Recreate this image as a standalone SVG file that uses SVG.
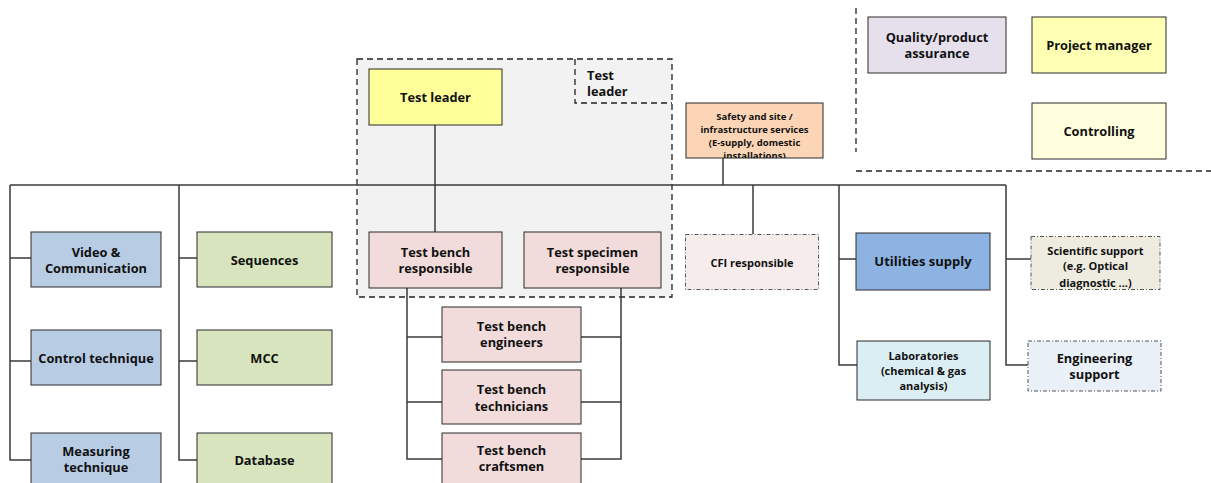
<svg xmlns="http://www.w3.org/2000/svg" width="1211" height="483" viewBox="0 0 1211 483">
  <style>
    .box { stroke: #2b2b2b; stroke-width: 1; }
    .dd { stroke: #555; stroke-width: 1; stroke-dasharray: 4 2 1 2; }
    .lbl { font-family: "Open Sans", "Noto Sans", "Liberation Sans", sans-serif; font-weight: bold; fill: #111; text-anchor: middle; dominant-baseline: central; }
    .s13 { font-size: 12.8px; }
    .s11 { font-size: 11px; }
    .s10 { font-size: 9.5px; }
    .s14 { font-size: 13px; }
    .conn { stroke: #3a3a3a; stroke-width: 1.5; fill: none; }
    .dash { stroke: #222; stroke-width: 1.3; stroke-dasharray: 6 4; }
  </style>
  <defs>
    <clipPath id="clipSafety"><rect x="686" y="103" width="137" height="55"/></clipPath>
    <clipPath id="clipSci"><rect x="1031" y="236" width="129" height="53"/></clipPath>
  </defs>
  <rect width="1211" height="483" fill="#ffffff"/>

  <!-- test leadership area -->
  <g id="leader-area">
    <rect x="357" y="59" width="315" height="238" class="dash" style="fill:#f2f2f2"/>
    <path d="M575 59 V103 H672" class="dash" style="fill:none"/>
    <text class="lbl s13" x="587" y="75" style="text-anchor:start">Test</text>
    <text class="lbl s13" x="587" y="91" style="text-anchor:start">leader</text>
  </g>

  <!-- staff area separators -->
  <g id="staff-separators">
    <line x1="856" y1="8" x2="856" y2="152" class="dash"/>
    <line x1="856" y1="171" x2="1211" y2="171" class="dash"/>
  </g>

  <!-- connectors -->
  <g id="connectors">
    <line x1="10" y1="185" x2="1006" y2="185" class="conn"/>
    <line x1="435" y1="125" x2="435" y2="232" class="conn"/>
    <line x1="723" y1="158" x2="723" y2="185" class="conn"/>
    <line x1="753" y1="185" x2="753" y2="234" class="conn"/>
    <!-- left columns -->
    <path d="M10 185 V460 H31 M10 258 H31 M10 361 H31" class="conn"/>
    <path d="M179 185 V460 H197 M179 258 H197 M179 361 H197" class="conn"/>
    <!-- test bench staff -->
    <path d="M407 288 V459 H442 M407 337 H442 M407 402 H442" class="conn"/>
    <path d="M621 288 V459 H581 M621 337 H581 M621 402 H581" class="conn"/>
    <!-- right columns -->
    <path d="M839 185 V365 H857 M839 259 H856" class="conn"/>
    <path d="M1006 185 V365 H1028 M1006 259 H1031" class="conn"/>
  </g>

  <g id="test-leader">
    <rect x="369" y="69" width="133" height="56" fill="#ffff99" class="box"/>
    <text class="lbl s13" x="435.5" y="97">Test leader</text>
  </g>

  <g id="safety">
    <rect x="686" y="103" width="137" height="55" fill="#fbd5b5" class="box"/>
    <g clip-path="url(#clipSafety)">
      <text class="lbl s10" x="754.5" y="116">Safety and site /</text>
      <text class="lbl s10" x="754.5" y="129">infrastructure services</text>
      <text class="lbl s10" x="754.5" y="142">(E-supply, domestic</text>
      <text class="lbl s10" x="754.5" y="155.5">installations)</text>
    </g>
  </g>

  <g id="quality">
    <rect x="868" y="17" width="138" height="56" fill="#e5e0ec" class="box"/>
    <text class="lbl s13" x="937" y="37">Quality/product</text>
    <text class="lbl s13" x="937" y="53">assurance</text>
  </g>
  <g id="project-manager">
    <rect x="1032" y="17" width="134" height="56" fill="#ffffb3" class="box"/>
    <text class="lbl s13" x="1099" y="45">Project manager</text>
  </g>
  <g id="controlling">
    <rect x="1032" y="103" width="134" height="56" fill="#ffffdd" class="box"/>
    <text class="lbl s13" x="1099" y="131">Controlling</text>
  </g>

  <!-- technique column -->
  <g id="video">
    <rect x="31" y="232" width="130" height="55" fill="#b8cce4" class="box"/>
    <text class="lbl s13" x="96" y="252">Video &amp;</text>
    <text class="lbl s13" x="96" y="268">Communication</text>
  </g>
  <g id="control">
    <rect x="31" y="330" width="130" height="55" fill="#b8cce4" class="box"/>
    <text class="lbl s13" x="96" y="358">Control technique</text>
  </g>
  <g id="measuring">
    <rect x="31" y="433" width="130" height="56" fill="#b8cce4" class="box"/>
    <text class="lbl s13" x="96" y="451">Measuring</text>
    <text class="lbl s13" x="96" y="467">technique</text>
  </g>

  <!-- software column -->
  <g id="sequences">
    <rect x="197" y="232" width="135" height="55" fill="#d7e4bd" class="box"/>
    <text class="lbl s13" x="264.5" y="260">Sequences</text>
  </g>
  <g id="mcc">
    <rect x="197" y="330" width="135" height="55" fill="#d7e4bd" class="box"/>
    <text class="lbl s13" x="264.5" y="358">MCC</text>
  </g>
  <g id="database">
    <rect x="197" y="433" width="135" height="56" fill="#d7e4bd" class="box"/>
    <text class="lbl s13" x="264.5" y="460">Database</text>
  </g>

  <!-- test bench -->
  <g id="bench-responsible">
    <rect x="369" y="232" width="133" height="56" fill="#f2dcdb" class="box"/>
    <text class="lbl s13" x="435.5" y="252">Test bench</text>
    <text class="lbl s13" x="435.5" y="268">responsible</text>
  </g>
  <g id="specimen-responsible">
    <rect x="524" y="232" width="137" height="56" fill="#f2dcdb" class="box"/>
    <text class="lbl s13" x="592.5" y="252">Test specimen</text>
    <text class="lbl s13" x="592.5" y="268">responsible</text>
  </g>
  <g id="engineers">
    <rect x="442" y="307" width="139" height="55" fill="#f2dcdb" class="box"/>
    <text class="lbl s13" x="511.5" y="326">Test bench</text>
    <text class="lbl s13" x="511.5" y="342">engineers</text>
  </g>
  <g id="technicians">
    <rect x="442" y="370" width="139" height="54" fill="#f2dcdb" class="box"/>
    <text class="lbl s13" x="511.5" y="389">Test bench</text>
    <text class="lbl s13" x="511.5" y="406">technicians</text>
  </g>
  <g id="craftsmen">
    <rect x="442" y="433" width="139" height="56" fill="#f2dcdb" class="box"/>
    <text class="lbl s13" x="511.5" y="450">Test bench</text>
    <text class="lbl s13" x="511.5" y="466">craftsmen</text>
  </g>

  <g id="cfi">
    <rect x="685.5" y="234.5" width="133" height="55" fill="#f6eceb" class="dd"/>
    <text class="lbl s11" x="752" y="262">CFI responsible</text>
  </g>

  <g id="utilities">
    <rect x="856" y="233" width="134" height="57" fill="#8db3e2" class="box"/>
    <text class="lbl s14" x="923" y="261">Utilities supply</text>
  </g>
  <g id="laboratories">
    <rect x="857" y="341" width="133" height="59" fill="#dbeef3" class="box"/>
    <text class="lbl s11" x="923.5" y="355">Laboratories</text>
    <text class="lbl s11" x="923.5" y="370">(chemical &amp; gas</text>
    <text class="lbl s11" x="923.5" y="385">analysis)</text>
  </g>

  <g id="scientific">
    <rect x="1031" y="236.5" width="129" height="53" fill="#eeece1" class="dd"/>
    <g clip-path="url(#clipSci)">
      <text class="lbl s11" x="1095.5" y="250">Scientific support</text>
      <text class="lbl s11" x="1095.5" y="265">(e.g. Optical</text>
      <text class="lbl s11" x="1095.5" y="282.5">diagnostic ...)</text>
    </g>
  </g>
  <g id="engineering">
    <rect x="1028" y="341" width="133" height="50" fill="#eaf0f8" class="dd"/>
    <text class="lbl s13" x="1094.5" y="358">Engineering</text>
    <text class="lbl s13" x="1094.5" y="374">support</text>
  </g>
</svg>
